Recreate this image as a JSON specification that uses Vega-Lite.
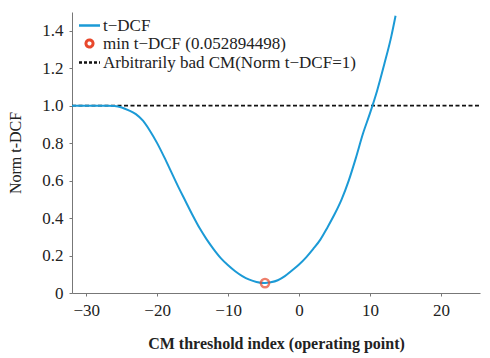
{
  "$schema": "https://vega.github.io/schema/vega-lite/v6.json",
  "width": 408,
  "height": 281,
  "autosize": "none",
  "padding": {"left": 72, "top": 12, "right": 10, "bottom": 65},
  "background": "white",
  "config": {
    "font": "Liberation Serif",
    "view": {"stroke": null},
    "axis": {"grid": false, "domainColor": "#777777", "tickColor": "#777777", "tickSize": 3, "labelFont": "Liberation Serif", "labelFontSize": 17, "labelColor": "#222222", "titleFont": "Liberation Serif", "titleColor": "#222222"},
    "legend": {"labelFont": "Liberation Serif"}
  },
  "datasets": {
    "curve": [
      {"x": -32, "y": 1.0}, {"x": -31, "y": 1.0}, {"x": -30, "y": 1.0}, {"x": -29, "y": 1.0},
      {"x": -28, "y": 1.0}, {"x": -27, "y": 1.0}, {"x": -26, "y": 0.998}, {"x": -25, "y": 0.99},
      {"x": -24, "y": 0.975}, {"x": -23, "y": 0.955}, {"x": -22, "y": 0.92}, {"x": -21, "y": 0.865},
      {"x": -20, "y": 0.8}, {"x": -19, "y": 0.725}, {"x": -18, "y": 0.645}, {"x": -17, "y": 0.565},
      {"x": -16, "y": 0.49}, {"x": -15, "y": 0.415}, {"x": -14, "y": 0.345}, {"x": -13, "y": 0.285},
      {"x": -12, "y": 0.232}, {"x": -11, "y": 0.185}, {"x": -10, "y": 0.148}, {"x": -9, "y": 0.116},
      {"x": -8, "y": 0.09}, {"x": -7, "y": 0.071}, {"x": -6, "y": 0.059}, {"x": -4.8, "y": 0.0529},
      {"x": -4, "y": 0.057}, {"x": -3, "y": 0.068}, {"x": -2, "y": 0.09}, {"x": -1, "y": 0.12},
      {"x": 0, "y": 0.152}, {"x": 1, "y": 0.19}, {"x": 2, "y": 0.235}, {"x": 3, "y": 0.285},
      {"x": 4, "y": 0.35}, {"x": 5, "y": 0.42}, {"x": 6, "y": 0.5}, {"x": 7, "y": 0.6},
      {"x": 8, "y": 0.72}, {"x": 9, "y": 0.85}, {"x": 10, "y": 0.96}, {"x": 11, "y": 1.08},
      {"x": 12, "y": 1.22}, {"x": 13, "y": 1.37}, {"x": 13.6, "y": 1.48}
    ],
    "minpt": [{"x": -4.8, "y": 0.052894498}],
    "bad": [{"x": -32, "y": 1.0}, {"x": 25.5, "y": 1.0}]
  },
  "encoding": {
    "x": {"field": "x", "type": "quantitative", "scale": {"domain": [-32, 25.5], "nice": false, "zero": false},
      "axis": {"values": [-30, -20, -10, 0, 10, 20], "labelExpr": "replace(datum.label, '-', '−')", "labelPadding": 6, "title": "CM threshold index (operating point)", "titleFontSize": 16, "titleFontWeight": "bold", "titlePadding": 17}},
    "y": {"field": "y", "type": "quantitative", "scale": {"domain": [0, 1.5], "nice": false},
      "axis": {"values": [0, 0.2, 0.4, 0.6, 0.8, 1.0, 1.2, 1.4], "labelExpr": "datum.value == 0 ? '0' : format(datum.value, '.1f')", "labelPadding": 6, "title": "Norm t-DCF", "titleFontSize": 16, "titleFontWeight": "normal", "titleX": -49}}
  },
  "layer": [
    {
      "data": {"name": "bad"},
      "transform": [{"calculate": "'Arbitrarily bad CM(Norm t−DCF=1)'", "as": "series"}],
      "mark": {"type": "line", "strokeWidth": 1.8, "strokeDash": [4, 2.5]},
      "encoding": {
        "color": {"field": "series", "type": "nominal"}
      }
    },
    {
      "data": {"name": "curve"},
      "transform": [{"calculate": "'t−DCF'", "as": "series"}],
      "mark": {"type": "line", "strokeWidth": 2, "interpolate": "monotone"},
      "encoding": {
        "color": {"field": "series", "type": "nominal",
          "scale": {"domain": ["t−DCF", "min t−DCF (0.052894498)", "Arbitrarily bad CM(Norm t−DCF=1)"], "range": ["#1b9ad6", "#e8482c", "#111111"]},
          "legend": {"title": null, "orient": "none", "legendX": 9, "legendY": 5, "labelFontSize": 17, "labelFont": "Liberation Serif", "labelColor": "#222222", "labelLimit": 0, "rowPadding": -1, "symbolSize": 100, "symbolStrokeWidth": 2.5, "labelOffset": 5, "padding": 0,
            "encode": {"symbols": {"update": {
              "shape": {"signal": "datum.value == 'min t−DCF (0.052894498)' ? 'circle' : 'stroke'"},
              "size": {"signal": "datum.value == 'min t−DCF (0.052894498)' ? 50 : 441"},
              "strokeWidth": {"signal": "datum.value == 'min t−DCF (0.052894498)' ? 3 : 2.5"},
              "strokeDash": {"signal": "datum.value == 'Arbitrarily bad CM(Norm t−DCF=1)' ? [3, 2] : [1, 0]"},
              "fill": {"value": "transparent"}
            }}}}}
      }
    },
    {
      "data": {"name": "minpt"},
      "transform": [{"calculate": "'min t−DCF (0.052894498)'", "as": "series"}],
      "mark": {"type": "point", "filled": false, "size": 70, "strokeWidth": 2.4},
      "encoding": {
        "color": {"field": "series", "type": "nominal"}
      }
    }
  ]
}
